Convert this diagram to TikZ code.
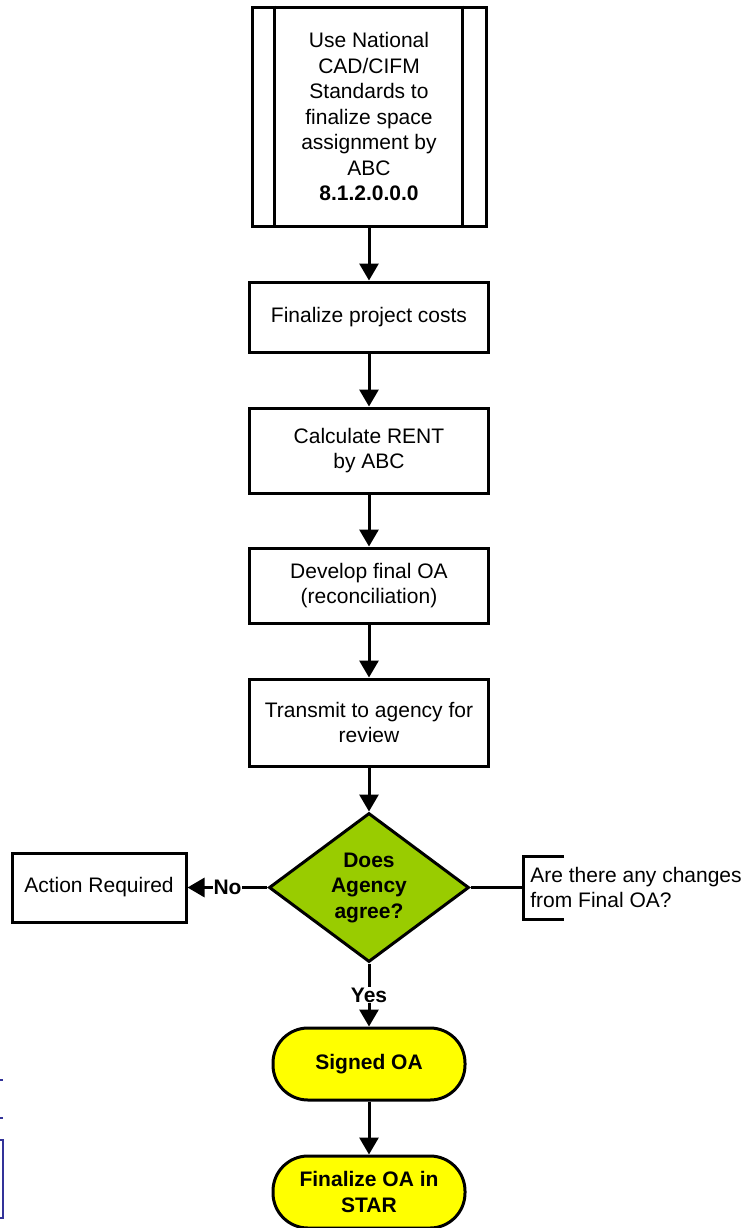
\documentclass[tikz,border=0pt]{standalone}
\usepackage{fontspec}
\setmainfont{Liberation Sans}
\usetikzlibrary{positioning,arrows.meta,shapes.geometric}
\definecolor{okgreen}{HTML}{99CC00}
\definecolor{termyellow}{HTML}{FFFF00}
\definecolor{linkblue}{HTML}{333399}

\begin{document}
\begin{tikzpicture}[
    x=0.5pt, y=-0.5pt,
    every node/.style={font=\fontsize{10.5}{12.75}\selectfont},
    task/.style={draw, line width=1.5pt, align=center, minimum width=119.5pt, inner sep=2pt},
    subproc/.style={task, minimum width=117pt, minimum height=109.5pt},
    decision/.style={diamond, draw, line width=1.5pt, fill=okgreen, aspect=1.34, inner sep=0pt, minimum width=100pt, minimum height=74.5pt, align=center, font=\fontsize{10.5}{12.75}\selectfont\bfseries},
    terminal/.style={draw, line width=1.5pt, fill=termyellow, rounded corners=17.5pt, minimum width=96pt, minimum height=36pt, align=center, font=\fontsize{10.5}{12.75}\selectfont\bfseries},
    flow/.style={-{Triangle[length=8.5pt, width=9.5pt]}, line width=1.5pt},
    lbl/.style={fill=white, inner sep=0.5pt, font=\fontsize{10.5}{12.75}\selectfont\bfseries}
]
    \useasboundingbox (0,0) rectangle (747,1228);

    % Sottoprocesso iniziale
    \node[subproc] (cad) at (369, 116.5) {Use National\\CAD/CIFM\\Standards to\\finalize space\\assignment by\\ABC\\\textbf{8.1.2.0.0.0}};
    \draw[line width=1.5pt] ([xshift=12pt]cad.north west) -- ([xshift=12pt]cad.south west);
    \draw[line width=1.5pt] ([xshift=-12.5pt]cad.north east) -- ([xshift=-12.5pt]cad.south east);

    % Passi del processo
    \node[task, minimum height=35pt] (costs) at (369, 317) {Finalize project costs};
    \node[task, minimum height=42.5pt] (rent) at (369, 450.5) {Calculate RENT\\by ABC};
    \node[task, minimum height=37.5pt] (final) at (369, 585.5) {Develop final OA\\(reconciliation)};
    \node[task, minimum height=43.5pt] (send) at (369, 722.5) {Transmit to agency for\\review};

    % Decisione
    \node[decision] (agree) at (369, 887.5) {Does\\Agency\\agree?};
    \node[task, minimum width=87pt, minimum height=34.5pt] (action) at (99, 887.5) {Action Required};

    % Terminali
    \node[terminal] (signed) at (369, 1064) {Signed OA};
    \node[terminal] (star) at (369, 1192) {Finalize OA in\\STAR};

    % Connessioni
    \draw[flow] (cad) -- (costs);
    \draw[flow] (costs) -- (rent);
    \draw[flow] (rent) -- (final);
    \draw[flow] (final) -- (send);
    \draw[flow] (send) -- (agree);
    \draw[flow] (agree) -- node[lbl] {No} (action);
    \draw[flow] (agree) -- node[lbl] {Yes} (signed);
    \draw[flow] (signed) -- (star);

    % Annotazione
    \coordinate (brk) at (523, 887.5);
    \draw[line width=1.5pt] (agree) -- (brk);
    \draw[line width=1.5pt] (564, 856) -- (523, 856) -- (523, 919) -- (564, 919);
    \node[anchor=west, align=left, inner sep=0pt] (note) at (530, 887.5) {Are there any changes\\from Final OA?};

    % Frammenti blu sul bordo
    \draw[linkblue, line width=1pt] (0, 1080) -- (3, 1080);
    \draw[linkblue, line width=1pt] (0, 1118) -- (3, 1118);
    \draw[linkblue, line width=1pt] (0, 1140) -- (3, 1140) -- (3, 1218) -- (0, 1218);

\end{tikzpicture}
\end{document}
